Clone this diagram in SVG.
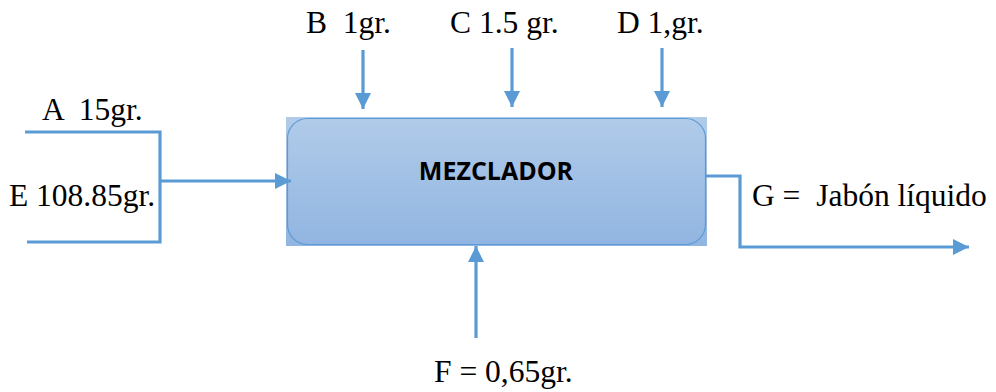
<svg xmlns="http://www.w3.org/2000/svg" width="996" height="392" viewBox="0 0 996 392">
<defs>
<linearGradient id="g" x1="0" y1="0" x2="0" y2="1">
<stop offset="0" stop-color="#b1cbe9"/>
<stop offset="1" stop-color="#91b5e1"/>
</linearGradient>
<marker id="ah" viewBox="0 0 10 10" refX="10" refY="5" markerWidth="5" markerHeight="5" orient="auto" markerUnits="strokeWidth">
<path d="M0,0 L10,5 L0,10 Z" fill="#5b9bd5"/>
</marker>
<style>
.c{fill:none;stroke:#5b9bd5;stroke-width:3.2}
.t{font-family:"Liberation Serif","Times New Roman",serif;font-size:31.5px;fill:#000;white-space:pre}
</style>
</defs>
<rect width="996" height="392" fill="#fff"/>
<g id="mezclador">
<rect x="286" y="117" width="421" height="129" fill="url(#g)"/>
<rect x="287.5" y="118.5" width="418" height="126" rx="20" fill="none" stroke="#5b9bd5" stroke-width="1.2"/>
<text x="496" y="180" text-anchor="middle" font-family="'Open Sans','Liberation Sans',sans-serif" font-weight="bold" font-size="25">MEZCLADOR</text>
</g>
<g id="connectors">
<polyline class="c" points="25,132 160,132 160,242 27,242"/>
<line class="c" x1="160" y1="181" x2="291" y2="181" marker-end="url(#ah)"/>
<line class="c" x1="363" y1="50" x2="363" y2="109" marker-end="url(#ah)"/>
<line class="c" x1="512" y1="48" x2="512" y2="107" marker-end="url(#ah)"/>
<line class="c" x1="662" y1="48" x2="662" y2="107" marker-end="url(#ah)"/>
<line class="c" x1="476" y1="338" x2="476" y2="246" marker-end="url(#ah)"/>
<polyline class="c" points="706,176 740,176 740,247 969,247" marker-end="url(#ah)"/>
</g>
<g id="labels">
<text class="t" x="42" y="120" xml:space="preserve">A  15gr.</text>
<text class="t" x="9" y="206">E 108.85gr.</text>
<text class="t" x="306" y="33" xml:space="preserve">B  1gr.</text>
<text class="t" x="450" y="33">C 1.5 gr.</text>
<text class="t" x="617" y="33">D 1,gr.</text>
<text class="t" x="752" y="206" xml:space="preserve">G =  Jabón líquido</text>
<text class="t" x="434" y="382">F = 0,65gr.</text>
</g>
</svg>
